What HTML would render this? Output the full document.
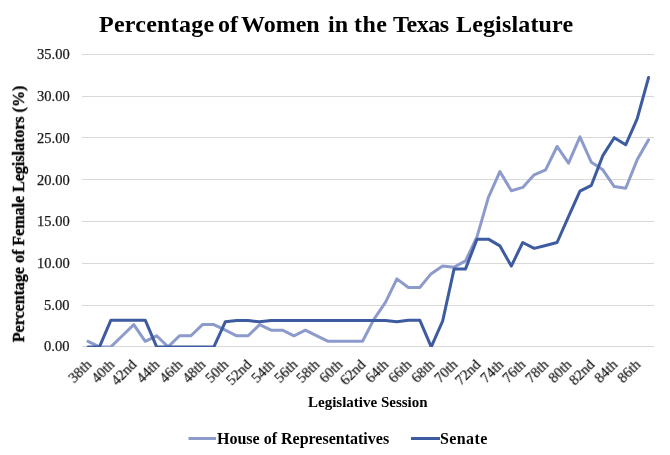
<!DOCTYPE html>
<html><head><meta charset="utf-8"><style>
html,body{margin:0;padding:0;background:#fff;}
div{will-change:transform;}
body{width:670px;height:455px;position:relative;overflow:hidden;font-family:"Liberation Serif",serif;}
.tw{position:absolute;top:9px;font-weight:bold;font-size:24px;line-height:30px;color:#000;white-space:nowrap;}
.yl{position:absolute;right:600.5px;font-size:14.5px;color:#1a1a1a;-webkit-text-stroke:0.25px #1a1a1a;line-height:18px;white-space:nowrap;}
.xl{position:absolute;top:356.8px;font-size:14.5px;color:#111;-webkit-text-stroke:0.2px #111;line-height:14px;white-space:nowrap;transform-origin:100% 0;transform:translateX(-100%) rotate(-45deg);}
.ytitle{position:absolute;left:19px;top:213.5px;-webkit-text-stroke:0.3px #000;font-size:16px;line-height:20px;font-weight:bold;white-space:nowrap;transform:translate(-50%,-50%) rotate(-90deg);color:#000;}
.xtitle{position:absolute;left:308.4px;top:391.8px;font-size:15px;line-height:20px;font-weight:bold;white-space:nowrap;color:#000;}
.leg{position:absolute;top:428.5px;font-size:16px;line-height:20px;font-weight:bold;white-space:nowrap;color:#000;}
svg{position:absolute;left:0;top:0;}
</style></head><body>
<div class="tw" style="left:98.8px;letter-spacing:0.25px">Percentage</div><div class="tw" style="left:218px">of</div><div class="tw" style="left:241.2px">Women</div><div class="tw" style="left:327.5px">in</div><div class="tw" style="left:354.4px;letter-spacing:0.4px">the</div><div class="tw" style="left:393.1px;letter-spacing:-0.4px">Texas</div><div class="tw" style="left:455.8px;letter-spacing:0.15px">Legislature</div>
<svg width="670" height="455">
<g stroke="#d9d9d9" stroke-width="1"><line x1="82" x2="654" y1="54.5" y2="54.5"/><line x1="82" x2="654" y1="96.5" y2="96.5"/><line x1="82" x2="654" y1="137.5" y2="137.5"/><line x1="82" x2="654" y1="179.5" y2="179.5"/><line x1="82" x2="654" y1="221.5" y2="221.5"/><line x1="82" x2="654" y1="263.5" y2="263.5"/><line x1="82" x2="654" y1="305.5" y2="305.5"/><line x1="82" x2="654" y1="346.5" y2="346.5"/></g>
<defs><clipPath id="pc"><rect x="0" y="0" width="670" height="347"/></clipPath></defs><g clip-path="url(#pc)"><path d="M88.02,341.30 L99.46,346.90 L110.90,346.90 L122.34,335.79 L133.78,324.60 L145.22,341.30 L156.66,335.79 L168.10,346.90 L179.54,335.79 L190.98,335.79 L202.42,324.60 L213.86,324.60 L225.30,330.20 L236.74,335.79 L248.18,335.79 L259.62,324.60 L271.06,330.20 L282.50,330.20 L293.94,335.79 L305.38,330.20 L316.82,335.79 L328.26,341.30 L339.70,341.30 L351.14,341.30 L362.58,341.30 L374.02,319.09 L385.46,302.39 L396.90,278.84 L408.34,287.44 L419.78,287.44 L431.22,273.66 L442.66,265.89 L454.10,267.14 L465.54,260.88 L476.98,236.91 L488.42,197.41 L499.86,171.52 L511.30,190.73 L522.74,187.39 L534.18,174.86 L545.62,169.85 L557.06,146.47 L568.50,163.17 L579.94,136.86 L591.38,162.33 L602.82,169.85 L614.26,186.55 L625.70,188.22 L637.14,159.83 L648.58,139.78" fill="none" stroke="#8d9bcc" stroke-width="3" stroke-linejoin="round" stroke-linecap="round"/>
<path d="M88.02,346.90 L99.46,346.90 L110.90,320.18 L122.34,320.18 L133.78,320.18 L145.22,320.18 L156.66,346.90 L168.10,346.90 L179.54,346.90 L190.98,346.90 L202.42,346.90 L213.86,346.90 L225.30,321.85 L236.74,320.43 L248.18,320.43 L259.62,321.85 L271.06,320.43 L282.50,320.43 L293.94,320.43 L305.38,320.43 L316.82,320.43 L328.26,320.43 L339.70,320.43 L351.14,320.43 L362.58,320.43 L374.02,320.43 L385.46,320.43 L396.90,321.85 L408.34,320.18 L419.78,320.18 L431.22,346.90 L442.66,321.01 L454.10,268.90 L465.54,268.90 L476.98,239.17 L488.42,239.17 L499.86,245.85 L511.30,266.06 L522.74,242.51 L534.18,248.35 L545.62,245.43 L557.06,242.51 L568.50,216.62 L579.94,191.15 L591.38,185.30 L602.82,155.65 L614.26,137.70 L625.70,144.80 L637.14,118.91 L648.58,77.48" fill="none" stroke="#3d5b9f" stroke-width="3" stroke-linejoin="round" stroke-linecap="round"/></g>
<line x1="188.5" x2="216" y1="438.5" y2="438.5" stroke="#8d9bcc" stroke-width="3"/>
<line x1="411" x2="440" y1="438.5" y2="438.5" stroke="#3d5b9f" stroke-width="3"/>
</svg>
<div class="yl" style="top:45.4px">35.00</div><div class="yl" style="top:87.1px">30.00</div><div class="yl" style="top:128.8px">25.00</div><div class="yl" style="top:170.5px">20.00</div><div class="yl" style="top:212.3px">15.00</div><div class="yl" style="top:254.0px">10.00</div><div class="yl" style="top:295.7px">5.00</div><div class="yl" style="top:337.4px">0.00</div>
<div class="xl" style="left:83.6px">38th</div><div class="xl" style="left:106.5px">40th</div><div class="xl" style="left:129.4px">42nd</div><div class="xl" style="left:152.3px">44th</div><div class="xl" style="left:175.1px">46th</div><div class="xl" style="left:198.0px">48th</div><div class="xl" style="left:220.9px">50th</div><div class="xl" style="left:243.8px">52nd</div><div class="xl" style="left:266.7px">54th</div><div class="xl" style="left:289.5px">56th</div><div class="xl" style="left:312.4px">58th</div><div class="xl" style="left:335.3px">60th</div><div class="xl" style="left:358.2px">62nd</div><div class="xl" style="left:381.1px">64th</div><div class="xl" style="left:403.9px">66th</div><div class="xl" style="left:426.8px">68th</div><div class="xl" style="left:449.7px">70th</div><div class="xl" style="left:472.6px">72nd</div><div class="xl" style="left:495.5px">74th</div><div class="xl" style="left:518.3px">76th</div><div class="xl" style="left:541.2px">78th</div><div class="xl" style="left:564.1px">80th</div><div class="xl" style="left:587.0px">82nd</div><div class="xl" style="left:609.9px">84th</div><div class="xl" style="left:632.7px">86th</div>
<div class="ytitle">Percentage of Female Legislators (%)</div>
<div class="xtitle">Legislative Session</div>
<div class="leg" style="left:217px">House of Representatives</div>
<div class="leg" style="left:440px;letter-spacing:0.4px">Senate</div>
</body></html>
